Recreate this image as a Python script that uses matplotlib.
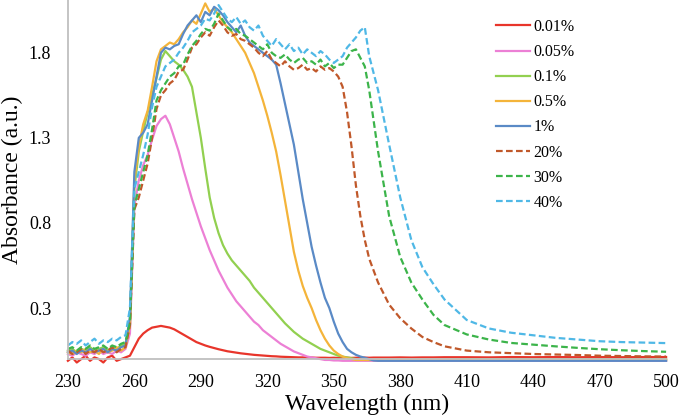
import numpy as np
import matplotlib.pyplot as plt

# measurement grid (nm)
wl = np.concatenate([np.arange(230, 371, 2), np.arange(375, 401, 5), np.arange(410, 501, 10)])

labels = ["0.01%", "0.05%", "0.1%", "0.5%", "1%", "20%", "30%", "40%"]
colors = ["#E8352B", "#EC80D5", "#92D050", "#F4B43A", "#5A8AC6", "#C0582A", "#3CB44A", "#4FB8E6"]
styles = ["-", "-", "-", "-", "-", "--", "--", "--"]

a001 = [-0.01, 0.01, -0.02, 0.00, 0.02, -0.01, 0.01, 0.00, -0.02, 0.01, 0.02, -0.01, 0.00, 0.01,
        0.02,
        0.07, 0.12, 0.15, 0.17, 0.185, 0.19, 0.195, 0.19, 0.185, 0.175, 0.16, 0.145, 0.13, 0.115, 0.10, 0.09, 0.08, 0.072, 0.065, 0.058,
        0.052, 0.046, 0.042, 0.038, 0.034, 0.031, 0.028, 0.025, 0.023, 0.021, 0.019, 0.017, 0.016, 0.014, 0.013, 0.012, 0.011, 0.010, 0.010, 0.009,
        0.009, 0.008, 0.008, 0.008, 0.007, 0.008, 0.007, 0.007, 0.008, 0.007, 0.008, 0.008, 0.009, 0.008, 0.009, 0.009,
        0.009, 0.010, 0.009, 0.010, 0.010, 0.011,
        0.011, 0.010, 0.012, 0.011, 0.012, 0.011, 0.012, 0.011, 0.012, 0.012]

a005 = [0.03, 0.02, 0.04, 0.03, 0.02, 0.04, 0.03, 0.05, 0.03, 0.04, 0.03, 0.05, 0.04, 0.06,
        0.15,
        0.90, 1.05, 1.14, 1.20, 1.29, 1.37, 1.41, 1.43, 1.38, 1.30, 1.22, 1.12, 1.03, 0.94, 0.86, 0.78, 0.71, 0.64, 0.58, 0.52,
        0.47, 0.42, 0.38, 0.34, 0.31, 0.28, 0.25, 0.22, 0.20, 0.17, 0.15, 0.13, 0.11, 0.09, 0.075, 0.06, 0.045, 0.035, 0.025, 0.015,
        0.01, 0.005, 0.0, -0.005, -0.005, -0.008, -0.008, -0.01, -0.01, -0.01, -0.01, -0.01, -0.01, -0.01, -0.01, -0.01,
        -0.01, -0.01, -0.01, -0.01, -0.01, -0.01,
        -0.01, -0.01, -0.01, -0.01, -0.01, -0.01, -0.01, -0.01, -0.01, -0.01]

a01 = [0.05, 0.06, 0.04, 0.06, 0.05, 0.07, 0.05, 0.06, 0.07, 0.05, 0.07, 0.06, 0.08, 0.09,
       0.20,
       1.00, 1.22, 1.34, 1.45, 1.55, 1.65, 1.76, 1.81, 1.78, 1.75, 1.73, 1.70, 1.66, 1.60, 1.45, 1.30, 1.12, 0.95, 0.83, 0.74,
       0.67, 0.62, 0.58, 0.55, 0.52, 0.49, 0.46, 0.42, 0.39, 0.36, 0.33, 0.30, 0.27, 0.24, 0.21, 0.185, 0.16, 0.14, 0.12, 0.105,
       0.09, 0.075, 0.06, 0.05, 0.04, 0.03, 0.02, 0.015, 0.01, 0.005, 0.0, -0.003, -0.005, -0.005, -0.005, -0.005,
       -0.005, -0.005, -0.005, -0.005, -0.005, -0.005,
       0.0, 0.0, 0.0, 0.0, 0.0, 0.0, 0.0, 0.0, 0.0, 0.0]

a05 = [0.04, 0.03, 0.05, 0.04, 0.06, 0.04, 0.05, 0.03, 0.06, 0.04, 0.05, 0.07, 0.05, 0.07,
       0.20,
       1.05, 1.25, 1.38, 1.46, 1.60, 1.75, 1.82, 1.84, 1.86, 1.85, 1.88, 1.92, 1.95, 1.99, 1.97, 2.03, 2.09, 2.04, 2.06, 2.02,
       1.98, 1.95, 1.92, 1.88, 1.84, 1.80, 1.74, 1.68, 1.60, 1.52, 1.43, 1.33, 1.22, 1.08, 0.93, 0.78, 0.63, 0.52, 0.43, 0.36,
       0.30, 0.23, 0.17, 0.12, 0.08, 0.05, 0.03, 0.015, 0.005, 0.0, -0.005, -0.005, -0.005, -0.005, -0.005, -0.005,
       -0.005, -0.005, -0.005, -0.005, -0.005, -0.005,
       -0.005, -0.005, -0.005, -0.005, -0.005, -0.005, -0.005, -0.005, -0.005, -0.005]

a1 = [0.04, 0.05, 0.03, 0.05, 0.04, 0.06, 0.04, 0.05, 0.06, 0.04, 0.06, 0.05, 0.07, 0.08,
      0.25,
      1.10, 1.30, 1.33, 1.38, 1.52, 1.66, 1.80, 1.83, 1.82, 1.84, 1.85, 1.91, 1.96, 1.99, 2.02, 1.98, 2.04, 2.02, 2.07, 2.05,
      2.02, 1.98, 1.95, 1.92, 1.96, 1.90, 1.86, 1.84, 1.82, 1.80, 1.78, 1.76, 1.73, 1.62, 1.50, 1.38, 1.26, 1.10, 0.94, 0.80,
      0.66, 0.55, 0.45, 0.36, 0.30, 0.22, 0.15, 0.10, 0.06, 0.04, 0.025, 0.015, 0.008, 0.0, -0.008, -0.01,
      -0.01, -0.01, -0.01, -0.01, -0.01, -0.01,
      -0.01, -0.01, -0.01, -0.01, -0.01, -0.01, -0.01, -0.01, -0.01, -0.01]

a20 = [0.05, 0.03, 0.04, 0.06, 0.03, 0.05, 0.04, 0.06, 0.04, 0.05, 0.07, 0.04, 0.06, 0.07,
       0.20,
       0.88, 0.95, 1.05, 1.15, 1.30, 1.47, 1.55, 1.58, 1.62, 1.64, 1.69, 1.70, 1.76, 1.83, 1.85, 1.89, 1.92, 1.90, 1.95, 1.99,
       1.96, 1.92, 1.90, 1.91, 1.88, 1.87, 1.85, 1.83, 1.80, 1.78, 1.81, 1.76, 1.74, 1.72, 1.75, 1.72, 1.70, 1.71, 1.73, 1.70,
       1.71, 1.69, 1.72, 1.70, 1.71, 1.69, 1.66, 1.60, 1.45, 1.25, 1.02, 0.84, 0.70, 0.59, 0.52, 0.45,
       0.32, 0.24, 0.18, 0.13, 0.10, 0.075,
       0.05, 0.04, 0.035, 0.03, 0.027, 0.024, 0.02, 0.018, 0.016, 0.015]

a30 = [0.06, 0.07, 0.05, 0.07, 0.06, 0.08, 0.06, 0.07, 0.08, 0.06, 0.08, 0.07, 0.09, 0.10,
       0.22,
       0.90, 1.00, 1.10, 1.20, 1.35, 1.52, 1.58, 1.62, 1.66, 1.68, 1.72, 1.73, 1.79, 1.84, 1.87, 1.91, 1.94, 1.93, 1.97, 2.03,
       1.99, 1.95, 1.93, 1.94, 1.91, 1.90, 1.88, 1.86, 1.84, 1.82, 1.85, 1.80, 1.78, 1.77, 1.79, 1.76, 1.74, 1.76, 1.77, 1.74,
       1.75, 1.73, 1.76, 1.72, 1.74, 1.71, 1.73, 1.73, 1.77, 1.81, 1.82, 1.77, 1.72, 1.58, 1.40, 1.22,
       0.84, 0.60, 0.45, 0.35, 0.26, 0.20,
       0.145, 0.115, 0.095, 0.085, 0.075, 0.066, 0.058, 0.052, 0.047, 0.043]

a40 = [0.08, 0.10, 0.09, 0.11, 0.08, 0.10, 0.12, 0.09, 0.11, 0.10, 0.12, 0.11, 0.13, 0.14,
       0.30,
       1.00, 1.10, 1.20, 1.32, 1.48, 1.60, 1.66, 1.72, 1.74, 1.76, 1.80, 1.83, 1.87, 1.92, 1.94, 1.96, 2.00, 1.99, 2.03, 2.08,
       2.04, 2.00, 1.98, 2.01, 1.97, 1.99, 1.95, 1.93, 1.96, 1.90, 1.87, 1.84, 1.88, 1.85, 1.82, 1.85, 1.81, 1.83, 1.79, 1.82,
       1.80, 1.78, 1.81, 1.79, 1.76, 1.74, 1.76, 1.78, 1.83, 1.86, 1.89, 1.93, 1.95, 1.78, 1.68, 1.58,
       1.26, 0.95, 0.70, 0.54, 0.44, 0.35,
       0.23, 0.18, 0.155, 0.14, 0.125, 0.115, 0.105, 0.10, 0.097, 0.094]

series = [a001, a005, a01, a05, a1, a20, a30, a40]

plt.rcParams['font.family'] = ['Liberation Serif', 'DejaVu Serif']

fig, ax = plt.subplots(figsize=(6.79, 4.2), dpi=100)
fig.subplots_adjust(left=0.1, right=0.981, bottom=0.145, top=1.0)

for y, lab, c, ls in zip(series, labels, colors, styles):
    if ls == "--":
        ax.plot(wl, y, color=c, lw=1.6, linestyle=(0, (3, 1.5)), label=lab, clip_on=False)
    else:
        ax.plot(wl, y, color=c, lw=1.6, label=lab, clip_on=False)

ax.set_xlim(230, 500)
ax.set_ylim(0, 2.11)
ax.set_xticks(np.arange(230, 501, 30))
ax.set_yticks([0.3, 0.8, 1.3, 1.8])
ax.set_yticklabels(["0.3", "0.8", "1.3", "1.8"])
ax.tick_params(axis="x", length=0, labelsize=13, pad=11)
ax.tick_params(axis="y", length=0, labelsize=13, pad=12)

for s in ["top", "right"]:
    ax.spines[s].set_visible(False)
for s in ["left", "bottom"]:
    ax.spines[s].set_color("#BFBFBF")
    ax.spines[s].set_linewidth(1.3)

ax.set_xlabel("Wavelength (nm)", fontsize=17, labelpad=2)
ax.set_ylabel("Absorbance (a.u.)", fontsize=17, labelpad=4)

ax.legend(loc="upper left", bbox_to_anchor=(0.709, 0.989), bbox_transform=fig.transFigure,
          frameon=False, fontsize=11.5, handlelength=2.15, handletextpad=0.2, labelspacing=0.57)

fig.savefig("out.png", dpi=100)
